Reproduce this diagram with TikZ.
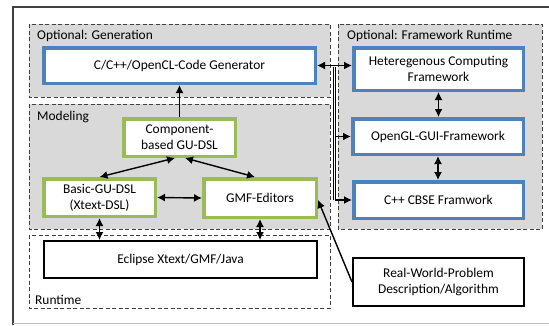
\documentclass[tikz,border=0pt]{standalone}
\usepackage{fontspec}
\setmainfont{Carlito}
\usetikzlibrary{arrows.meta,calc}
\definecolor{obl}{HTML}{4F81BD}
\definecolor{ogr}{HTML}{9BBB59}
\definecolor{regfill}{HTML}{D9D9D9}
\definecolor{regline}{HTML}{404040}
\begin{document}
\begin{tikzpicture}[x=1pt,y=-1pt,
  every node/.style={font=\fontsize{13.4}{16}\selectfont, text=black},
  box/.style={fill=white, align=center, inner sep=0pt, line width=3.5pt},
  bluebox/.style={box, draw=obl},
  greenbox/.style={box, draw=ogr},
  blackbox/.style={box, draw=black, line width=2pt},
  region/.style={draw=regline, line width=0.9pt, dash pattern=on 4pt off 2.5pt},
  reglabel/.style={anchor=west, inner sep=0pt},
  arr/.style={-{Latex[length=8pt,width=8pt]}, line width=1.4pt},
  darr/.style={{Latex[length=8pt,width=8pt]}-{Latex[length=8pt,width=8pt]}, line width=1.4pt}]
\useasboundingbox (0,0) rectangle (549,325);
% outer frame
\draw[line width=1.2pt, black!75] (13,325) -- (13,7) -- (551,7);
\draw[line width=1.2pt, black!25] (13,323.5) -- (551,323.5);
% regions
\draw[region, fill=regfill] (29,24) rectangle (330,97);
\draw[region, fill=regfill] (29,104) rectangle (330,229);
\draw[region, fill=white] (29,235) rectangle (330,308);
\draw[region, fill=regfill] (338,24) rectangle (542,229);
\node[reglabel] (lgen) at (37,36) {Optional: Generation};
\node[reglabel] (lmod) at (37,117) {Modeling};
\node[reglabel] (lrun) at (35,300) {Runtime};
\node[reglabel] (lfw) at (347,36) {Optional: Framework Runtime};
% nodes
\node[bluebox, minimum width=271.5, minimum height=35.5] (gen) at (179.5,65.5) {C/C++/OpenCL-Code Generator};
\node[bluebox, minimum width=169.5, minimum height=42.5] (het) at (438.5,69) {Heteregenous Computing\\Framework};
\node[bluebox, minimum width=170.5, minimum height=35.5] (ogl) at (438,136.5) {OpenGL-GUI-Framework};
\node[bluebox, minimum width=169.5, minimum height=36.5] (cbse) at (438.5,200) {C++ CBSE Framwork};
\node[greenbox, minimum width=111.5, minimum height=37.5] (comp) at (179.5,137.5) {Component-\\based GU-DSL};
\node[greenbox, minimum width=111.5, minimum height=37.5] (basic) at (99.5,197.5) {Basic-GU-DSL\\(Xtext-DSL)};
\node[greenbox, minimum width=112.5, minimum height=38.5] (gmf) at (260,198) {GMF-Editors};
\node[blackbox, minimum width=273, minimum height=37] (ecl) at (180.5,259.5) {Eclipse Xtext/GMF/Java};
\node[blackbox, minimum width=171, minimum height=48] (rw) at (438.5,282) {Real-World-Problem\\Description/Algorithm};
% connectors
\draw[arr] (comp.north) -- (gen.south);
\draw[darr] (basic.north) -- ($(comp.south)+(-4.5,0)$);
\draw[darr] ($(gmf.north)+(-5,0)$) -- ($(comp.south)+(5.5,0)$);
\draw[darr] (basic.east) -- (gmf.west);
\draw[darr] (basic.south) -- (basic.south |- ecl.north);
\draw[darr] (gmf.south) -- (gmf.south |- ecl.north);
\draw[darr] (gen.east) -- (gen.east -| het.west);
\coordinate (bt) at ($(gen.east)!0.5!(het.west)$);
\draw[line width=0.6pt, double, double distance=0.9pt] (bt) -- (bt |- cbse.west);
\draw[arr] (bt |- ogl.west) -- (ogl.west);
\draw[arr] (bt |- cbse.west) -- (cbse.west);
\draw[darr] (het.south) -- (het.south |- ogl.north);
\draw[darr] (ogl.south) -- (ogl.south |- cbse.north);
\draw[arr] (rw.west) -- ($(gmf.east)+(0,2)$);
\end{tikzpicture}
\end{document}
